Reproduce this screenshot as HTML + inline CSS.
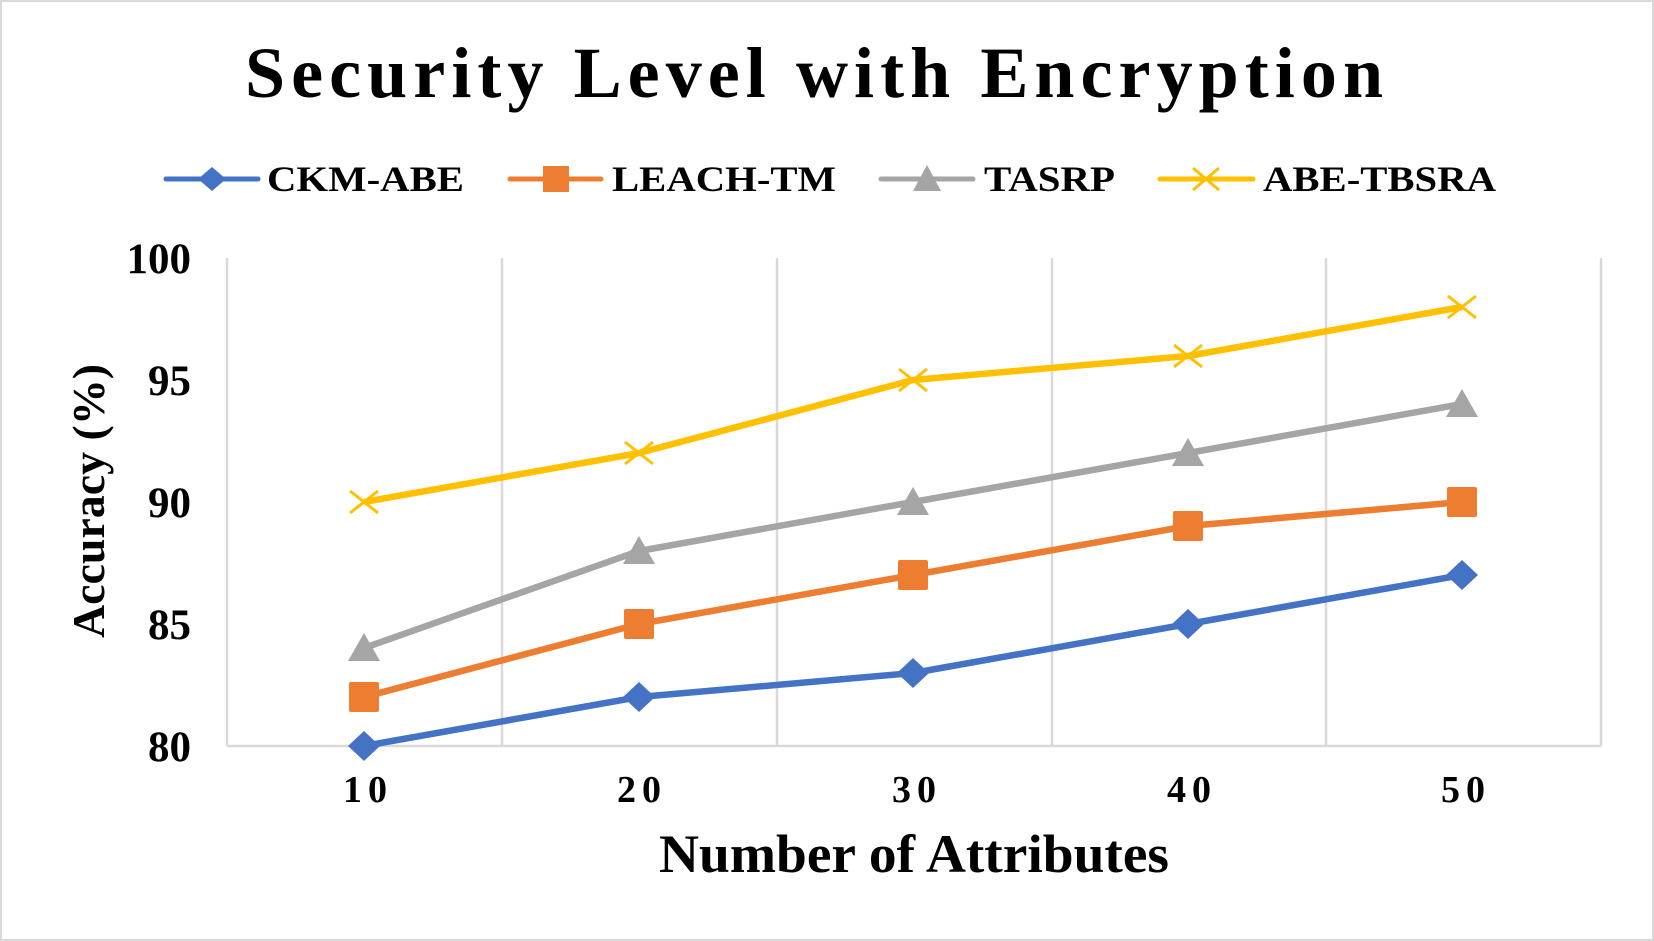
<!DOCTYPE html>
<html><head><meta charset="utf-8"><style>
html,body{margin:0;padding:0;background:#fff}
svg{display:block}
text{font-family:"Liberation Serif",serif;font-weight:bold;fill:#000}
</style></head><body>
<svg width="1654" height="941" viewBox="0 0 1654 941" xmlns="http://www.w3.org/2000/svg">
<rect x="1" y="1" width="1652" height="939" fill="#fff" stroke="#d9d9d9" stroke-width="2"/>
<text x="814" y="97" text-anchor="middle" font-size="72" textLength="1138" lengthAdjust="spacing">Security Level with Encryption</text>
<!-- legend -->
<g stroke-width="5" stroke-linecap="round">
<line x1="166" y1="179" x2="258" y2="179" stroke="#4472c4"/>
<line x1="510" y1="179" x2="601" y2="179" stroke="#ed7d31"/>
<line x1="881" y1="179" x2="973" y2="179" stroke="#a5a5a5"/>
<line x1="1160" y1="179" x2="1253" y2="179" stroke="#ffc000"/>
</g>
<polygon points="212,167 226,179 212,191 198,179" fill="#4472c4"/>
<rect x="543" y="166" width="26" height="26" fill="#ed7d31"/>
<polygon points="927,165 941,191 913,191" fill="#a5a5a5"/>
<g stroke="#ffc000" stroke-width="3"><line x1="1193" y1="168" x2="1219" y2="190"/><line x1="1193" y1="190" x2="1219" y2="168"/></g>
<g font-size="36">
<text x="267" y="191" textLength="197" lengthAdjust="spacingAndGlyphs">CKM-ABE</text>
<text x="612" y="191" textLength="224" lengthAdjust="spacingAndGlyphs">LEACH-TM</text>
<text x="984" y="191" textLength="131" lengthAdjust="spacingAndGlyphs">TASRP</text>
<text x="1263" y="191" textLength="233" lengthAdjust="spacingAndGlyphs">ABE-TBSRA</text>
</g>
<!-- grid -->
<g stroke="#d9d9d9" stroke-width="2.5">
<line x1="227" y1="258" x2="227" y2="746"/>
<line x1="502" y1="258" x2="502" y2="746"/>
<line x1="777" y1="258" x2="777" y2="746"/>
<line x1="1052" y1="258" x2="1052" y2="746"/>
<line x1="1326" y1="258" x2="1326" y2="746"/>
<line x1="1601" y1="258" x2="1601" y2="746"/>
<line x1="227" y1="746" x2="1601" y2="746"/>
</g>
<!-- y ticks -->
<g font-size="43" text-anchor="end">
<text x="191" y="273">100</text>
<text x="191" y="395">95</text>
<text x="191" y="517">90</text>
<text x="191" y="639">85</text>
<text x="191" y="761">80</text>
</g>
<g font-size="38" text-anchor="middle" letter-spacing="6">
<text x="368" y="802">10</text>
<text x="642" y="802">20</text>
<text x="917" y="802">30</text>
<text x="1192" y="802">40</text>
<text x="1466" y="802">50</text>
</g>
<text x="914" y="872" font-size="54" text-anchor="middle" textLength="510" lengthAdjust="spacingAndGlyphs">Number of Attributes</text>
<text transform="translate(104,501) rotate(-90)" font-size="46" text-anchor="middle" textLength="274" lengthAdjust="spacingAndGlyphs">Accuracy (%)</text>
<!-- series -->
<g fill="none" stroke-width="6.5" stroke-linejoin="round">
<polyline stroke="#4472c4" points="364,746 639,697 913,673 1188,624 1462,575"/>
<polyline stroke="#ed7d31" points="364,697 639,624 913,575 1188,526 1462,502"/>
<polyline stroke="#a5a5a5" points="364,648 639,551 913,502 1188,453 1462,404"/>
<polyline stroke="#ffc000" points="364,502 639,453 913,380 1188,356 1462,307"/>
</g>
<g fill="#4472c4">
<polygon points="364,731 380,746 364,761 348,746"/>
<polygon points="639,682 655,697 639,712 623,697"/>
<polygon points="913,658 929,673 913,688 897,673"/>
<polygon points="1188,609 1204,624 1188,639 1172,624"/>
<polygon points="1462,560 1478,575 1462,590 1446,575"/>
</g>
<g fill="#ed7d31">
<rect x="349" y="682" width="30" height="30" rx="2"/>
<rect x="624" y="609" width="30" height="30" rx="2"/>
<rect x="898" y="560" width="30" height="30" rx="2"/>
<rect x="1173" y="511" width="30" height="30" rx="2"/>
<rect x="1447" y="487" width="30" height="30" rx="2"/>
</g>
<g fill="#a5a5a5">
<polygon points="364,633 380,661 348,661"/>
<polygon points="639,536 655,564 623,564"/>
<polygon points="913,487 929,515 897,515"/>
<polygon points="1188,438 1204,466 1172,466"/>
<polygon points="1462,389 1478,417 1446,417"/>
</g>
<g stroke="#ffc000" stroke-width="3">
<path d="M350,491 L378,513 M350,513 L378,491"/>
<path d="M625,442 L653,464 M625,464 L653,442"/>
<path d="M899,369 L927,391 M899,391 L927,369"/>
<path d="M1174,345 L1202,367 M1174,367 L1202,345"/>
<path d="M1448,296 L1476,318 M1448,318 L1476,296"/>
</g>
</svg>
</body></html>
